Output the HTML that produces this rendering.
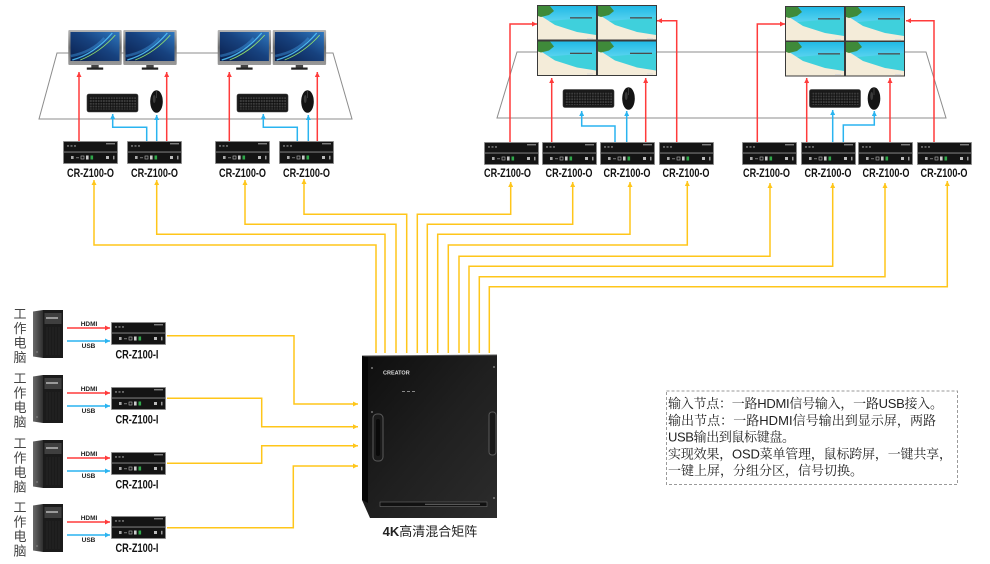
<!DOCTYPE html>
<html><head><meta charset="utf-8"><style>
html,body{margin:0;padding:0;background:#fff;width:990px;height:564px;overflow:hidden}
svg{display:block}
.lbl{font-family:"Liberation Sans","Noto Sans CJK SC",sans-serif;font-weight:bold;font-size:12px;fill:#111}
.sm{font-family:"Liberation Sans",sans-serif;font-weight:bold;font-size:6.5px;fill:#222}
.cjk{font-family:"Liberation Sans","Noto Sans CJK SC",sans-serif;font-size:13px;fill:#444}
.note{font-family:"Liberation Sans","Noto Serif CJK SC",serif;font-size:13px;fill:#222}
</style></head><body>
<svg width="990" height="564" viewBox="0 0 990 564" xmlns="http://www.w3.org/2000/svg">
<defs>
 <marker id="ay" viewBox="0 0 6 6" refX="6" refY="3" markerWidth="5" markerHeight="5" orient="auto" markerUnits="userSpaceOnUse"><path d="M0,0 L6,3 L0,6z" fill="#FFC61A"/></marker>
 <marker id="ar" viewBox="0 0 6 6" refX="6" refY="3" markerWidth="5" markerHeight="5" orient="auto" markerUnits="userSpaceOnUse"><path d="M0,0 L6,3 L0,6z" fill="#FF3B3B"/></marker>
 <marker id="ab" viewBox="0 0 6 6" refX="6" refY="3" markerWidth="5" markerHeight="5" orient="auto" markerUnits="userSpaceOnUse"><path d="M0,0 L6,3 L0,6z" fill="#2AB4F0"/></marker>
 <linearGradient id="win" x1="0" y1="1" x2="1" y2="0">
  <stop offset="0" stop-color="#0a1f4c"/><stop offset="0.55" stop-color="#17427f"/><stop offset="1" stop-color="#2f78c0"/>
 </linearGradient>
 <linearGradient id="bez" x1="0" y1="0" x2="0" y2="1">
  <stop offset="0" stop-color="#b5b5b5"/><stop offset="0.5" stop-color="#6e6e6e"/><stop offset="1" stop-color="#9a9a9a"/>
 </linearGradient>
 <linearGradient id="sky" x1="0" y1="0" x2="0" y2="1">
  <stop offset="0" stop-color="#21b9e6"/><stop offset="0.5" stop-color="#5fd6f0"/><stop offset="1" stop-color="#7ee3f2"/>
 </linearGradient>
 <linearGradient id="mtx" x1="0" y1="0" x2="1" y2="1">
  <stop offset="0" stop-color="#0e0e0e"/><stop offset="0.5" stop-color="#1f1f1f"/><stop offset="1" stop-color="#2c2c2c"/>
 </linearGradient>
 <linearGradient id="pcs" x1="0" y1="0" x2="1" y2="0">
  <stop offset="0" stop-color="#6a6a6a"/><stop offset="1" stop-color="#2e2e2e"/>
 </linearGradient>
 <pattern id="keys" width="2.6" height="2.8" patternUnits="userSpaceOnUse"><rect width="2.6" height="2.8" fill="#0c0c0c"/><rect x=".35" y=".35" width="1.9" height="2" fill="#3c3c3c"/></pattern>

 <g id="box">
  <rect x="0.5" y="0.5" width="54" height="22" fill="#141414" stroke="#8a8a8a" stroke-width="0.8"/>
  <rect x="0.9" y="10.4" width="53.2" height="1.3" fill="#6a6a6a"/>
  <rect x="4" y="4.3" width="2" height="1.3" fill="#888"/><rect x="7.5" y="4.3" width="2" height="1.3" fill="#888"/><rect x="11" y="4.3" width="2" height="1.3" fill="#888"/>
  <rect x="43" y="2.3" width="9" height="1" fill="#aaa"/>
  <rect x="8" y="15" width="2.6" height="3" fill="#aaa"/>
  <rect x="13" y="16.3" width="3" height="0.9" fill="#888"/>
  <rect x="18" y="15" width="3" height="3" fill="none" stroke="#bbb" stroke-width=".6"/>
  <rect x="23" y="14.5" width="2.6" height="4" fill="#ccc"/>
  <rect x="27.5" y="14.5" width="2.6" height="4" fill="#2fa84a"/>
  <rect x="43" y="15" width="3" height="3" fill="#bbb"/>
  <rect x="50" y="14.8" width="1.5" height="3.6" fill="#999"/>
 </g>

 <g id="mon">
  <rect x="0" y="0" width="53.4" height="35" rx="1" fill="url(#bez)"/>
  <rect x="2.2" y="2" width="49" height="29" fill="url(#win)"/>
  <path d="M4,30 Q26,24 44,3" stroke="#52c8ff" stroke-width="1.3" fill="none" opacity=".85"/>
  <path d="M12,30 Q32,22 47,5" stroke="#9ff06a" stroke-width="0.9" fill="none" opacity=".9"/>
  <path d="M2.5,26 Q24,22 36,8" stroke="#3a8fd8" stroke-width="2.5" fill="none" opacity=".5"/>
  <rect x="23" y="35" width="7.4" height="3" fill="#444"/>
  <rect x="18.5" y="37.5" width="16.4" height="2.2" fill="#222"/>
 </g>

 <g id="beach">
  <rect x="0" y="0" width="60" height="35.5" fill="#3a3a3a"/>
  <rect x="1" y="1" width="58" height="33.5" fill="url(#sky)"/>
  <polygon points="1,17 59,12 59,34.5 1,34.5" fill="#3fd0dc"/>
  <polygon points="1,9 18,20 40,27 59,30 59,34.5 1,34.5" fill="#f4ecd9"/>
  <polygon points="1,1 13,1 17,6 12,10 4,12 1,11" fill="#3f8a3a"/>
  <rect x="33" y="12.2" width="22" height="1.3" fill="#4b4b4b"/>
  <rect x="50" y="33" width="6" height="1" fill="#ddd"/>
 </g>

 <g id="kb">
  <rect x="0" y="0" width="51" height="18" rx="2" fill="#1a1a1a" stroke="#3f3f3f" stroke-width=".6"/>
  <rect x="2" y="3" width="47" height="12.5" fill="url(#keys)"/>
 </g>

 <g id="mouse">
  <ellipse cx="6.5" cy="11.5" rx="6.3" ry="11.3" fill="#141414"/>
  <path d="M6.5,1 V8" stroke="#555" stroke-width=".6"/>
  <ellipse cx="4.2" cy="9" rx="1.4" ry="4" fill="#3a3a3a"/>
 </g>

 <g id="pc">
  <polygon points="0,1.5 10,0 10,48 0,46.5" fill="url(#pcs)"/>
  <rect x="10" y="0" width="20" height="48" fill="#1b1b1b"/>
  <rect x="11.5" y="3" width="17" height="11" fill="#3f3f3f"/>
  <rect x="13" y="7" width="12" height="2" fill="#9a9a9a"/>
  <path d="M14,17 V45 M17,17 V45 M20,17 V45 M23,17 V45 M26,17 V45" stroke="#2a2a2a" stroke-width=".8"/>
  <circle cx="4" cy="42" r="1" fill="#777"/>
 </g>
</defs>

<!-- trapezoids -->
<polygon points="57,53 333,53 352,119 39,119" fill="none" stroke="#8c8c8c" stroke-width="1"/>
<polygon points="517,52 926,52 946,118 497,118" fill="none" stroke="#8c8c8c" stroke-width="1"/>

<!-- top-left monitors -->
<use href="#mon" x="68.3" y="30"/>
<use href="#mon" x="123.3" y="30"/>
<use href="#mon" x="217.7" y="30"/>
<use href="#mon" x="272.7" y="30"/>

<!-- video walls -->
<use href="#beach" x="537" y="5"/><use href="#beach" x="597" y="5"/>
<use href="#beach" x="537" y="40.5"/><use href="#beach" x="597" y="40.5"/>
<use href="#beach" x="785" y="6"/><use href="#beach" x="845" y="6"/>
<use href="#beach" x="785" y="41"/><use href="#beach" x="845" y="41"/>

<!-- keyboards & mice -->
<use href="#kb" x="87" y="94"/><use href="#mouse" x="150" y="90"/>
<use href="#kb" x="237" y="94"/><use href="#mouse" x="301" y="90"/>
<use href="#kb" x="563" y="89.5"/><use href="#mouse" x="622" y="87"/>
<use href="#kb" x="809.5" y="89.5"/><use href="#mouse" x="867.5" y="87"/>

<!-- red lines -->
<g stroke="#FF3B3B" stroke-width="1.5" fill="none" marker-end="url(#ar)">
 <polyline points="79,141 79,72"/>
 <polyline points="166.7,141 166.7,72"/>
 <polyline points="229.3,141 229.3,72"/>
 <polyline points="317.3,141 317.3,72"/>
 <polyline points="510,142 510,24 537,24"/>
 <polyline points="551.7,142 551.7,78"/>
 <polyline points="645.7,142 645.7,78"/>
 <polyline points="676.7,142 676.7,20.7 657,20.7"/>
 <polyline points="757.3,142 757.3,24 785,24"/>
 <polyline points="806.7,142 806.7,78"/>
 <polyline points="890,142 890,78"/>
 <polyline points="934,142 934,20.7 906,20.7"/>
</g>
<!-- blue lines -->
<g stroke="#2AB4F0" stroke-width="1.5" fill="none" marker-end="url(#ab)">
 <polyline points="146.7,141 146.7,127.3 112.7,127.3 112.7,114"/>
 <polyline points="156.7,141 156.7,115"/>
 <polyline points="297.3,141 297.3,127.3 263.3,127.3 263.3,114"/>
 <polyline points="308.3,141 308.3,115"/>
 <polyline points="615,142 615,126 581.7,126 581.7,111"/>
 <polyline points="626.7,142 626.7,111"/>
 <polyline points="832.7,142 832.7,110"/>
 <polyline points="843.3,142 843.3,125 874.3,125 874.3,111"/>
</g>

<!-- output boxes -->
<use href="#box" x="63" y="141"/><use href="#box" x="127" y="141"/>
<use href="#box" x="215" y="141"/><use href="#box" x="279" y="141"/>
<use href="#box" x="484" y="142"/><use href="#box" x="542" y="142"/>
<use href="#box" x="600" y="142"/><use href="#box" x="659" y="142"/>
<use href="#box" x="742" y="142"/><use href="#box" x="801" y="142"/>
<use href="#box" x="858" y="142"/><use href="#box" x="917" y="142"/>

<!-- output labels -->
<g class="lbl" text-anchor="middle">
 <text x="90.5" y="177" textLength="47" lengthAdjust="spacingAndGlyphs">CR-Z100-O</text>
 <text x="154.5" y="177" textLength="47" lengthAdjust="spacingAndGlyphs">CR-Z100-O</text>
 <text x="242.5" y="177" textLength="47" lengthAdjust="spacingAndGlyphs">CR-Z100-O</text>
 <text x="306.5" y="177" textLength="47" lengthAdjust="spacingAndGlyphs">CR-Z100-O</text>
 <text x="507.5" y="177" textLength="47" lengthAdjust="spacingAndGlyphs">CR-Z100-O</text>
 <text x="569" y="177" textLength="47" lengthAdjust="spacingAndGlyphs">CR-Z100-O</text>
 <text x="627" y="177" textLength="47" lengthAdjust="spacingAndGlyphs">CR-Z100-O</text>
 <text x="686" y="177" textLength="47" lengthAdjust="spacingAndGlyphs">CR-Z100-O</text>
 <text x="766.5" y="177" textLength="47" lengthAdjust="spacingAndGlyphs">CR-Z100-O</text>
 <text x="828" y="177" textLength="47" lengthAdjust="spacingAndGlyphs">CR-Z100-O</text>
 <text x="886" y="177" textLength="47" lengthAdjust="spacingAndGlyphs">CR-Z100-O</text>
 <text x="944" y="177" textLength="47" lengthAdjust="spacingAndGlyphs">CR-Z100-O</text>
</g>

<!-- yellow lines -->
<g stroke="#FFC61A" stroke-width="1.5" fill="none" marker-end="url(#ay)">
 <polyline points="376,353 376,245 94,245 94,180"/>
 <polyline points="385,353 385,234.3 156.7,234.3 156.7,180"/>
 <polyline points="396,353 396,224.3 245,224.3 245,180"/>
 <polyline points="406.7,353 406.7,214.3 304,214.3 304,179"/>
 <polyline points="417.3,353 417.3,214.3 510.7,214.3 510.7,182"/>
 <polyline points="427.3,353 427.3,224.3 572.7,224.3 572.7,182"/>
 <polyline points="437.7,353 437.7,234.3 630,234.3 630,182"/>
 <polyline points="448.3,353 448.3,245 687.3,245 687.3,181"/>
 <polyline points="459,353 459,256.3 770,256.3 770,183"/>
 <polyline points="469,353 469,266.3 832.7,266.3 832.7,183"/>
 <polyline points="479.3,353 479.3,276.7 885,276.7 885,183"/>
 <polyline points="489.3,353 489.3,286.7 947.3,286.7 947.3,181"/>
 <polyline points="167,335.7 294,335.7 294,404 358,404"/>
 <polyline points="167,398.3 261.7,398.3 261.7,426.7 358,426.7"/>
 <polyline points="167,463.3 261.7,463.3 261.7,445.7 358,445.7"/>
 <polyline points="167,527.7 293.3,527.7 293.3,466 358,466"/>
</g>

<!-- input rows -->
<g>
 <use href="#pc" x="33" y="310"/>
 <use href="#pc" x="33" y="375"/>
 <use href="#pc" x="33" y="440"/>
 <use href="#pc" x="33" y="504"/>
</g>
<g class="cjk" text-anchor="middle">
 <text x="20" y="318.5">工</text><text x="20" y="333">作</text><text x="20" y="347.5">电</text><text x="20" y="362">脑</text>
 <text x="20" y="383">工</text><text x="20" y="397.5">作</text><text x="20" y="412">电</text><text x="20" y="426.5">脑</text>
 <text x="20" y="448">工</text><text x="20" y="462.5">作</text><text x="20" y="477">电</text><text x="20" y="491.5">脑</text>
 <text x="20" y="512">工</text><text x="20" y="526.5">作</text><text x="20" y="541">电</text><text x="20" y="555.5">脑</text>
</g>
<g stroke="#FF3B3B" stroke-width="1.5" fill="none" marker-end="url(#ar)">
 <line x1="67" y1="328" x2="110" y2="328"/>
 <line x1="67" y1="393" x2="110" y2="393"/>
 <line x1="67" y1="458" x2="110" y2="458"/>
 <line x1="67" y1="522" x2="110" y2="522"/>
</g>
<g stroke="#2AB4F0" stroke-width="1.5" fill="none" marker-end="url(#ab)">
 <line x1="67" y1="341" x2="110" y2="341"/>
 <line x1="67" y1="406" x2="110" y2="406"/>
 <line x1="67" y1="471" x2="110" y2="471"/>
 <line x1="67" y1="535" x2="110" y2="535"/>
</g>
<g class="sm" text-anchor="middle">
 <text x="89" y="326">HDMI</text><text x="88.5" y="348">USB</text>
 <text x="89" y="391">HDMI</text><text x="88.5" y="413">USB</text>
 <text x="89" y="456">HDMI</text><text x="88.5" y="478">USB</text>
 <text x="89" y="520">HDMI</text><text x="88.5" y="542">USB</text>
</g>
<use href="#box" x="111" y="322"/>
<use href="#box" x="111" y="387"/>
<use href="#box" x="111" y="452"/>
<use href="#box" x="111" y="516"/>
<g class="lbl" text-anchor="middle">
 <text x="137" y="358.5" textLength="43" lengthAdjust="spacingAndGlyphs">CR-Z100-I</text>
 <text x="137" y="423.5" textLength="43" lengthAdjust="spacingAndGlyphs">CR-Z100-I</text>
 <text x="137" y="488.5" textLength="43" lengthAdjust="spacingAndGlyphs">CR-Z100-I</text>
 <text x="137" y="552" textLength="43" lengthAdjust="spacingAndGlyphs">CR-Z100-I</text>
</g>

<!-- matrix -->
<polygon points="362,356 497,355 497,518 370,518 362,500" fill="url(#mtx)"/>
<line x1="362" y1="356" x2="497" y2="355" stroke="#555" stroke-width="1"/>
<polygon points="362,356 368,357 368,503 362,500" fill="#060606"/>
<rect x="373" y="414" width="10" height="47" rx="4" fill="#1a1a1a" stroke="#5a5a5a" stroke-width="1"/>
<rect x="376" y="419" width="4" height="37" rx="2" fill="#0a0a0a"/>
<rect x="489" y="412" width="7" height="43" rx="3" fill="#1a1a1a" stroke="#5a5a5a" stroke-width="1"/>
<circle cx="372" cy="368" r="0.9" fill="#999"/><circle cx="494" cy="367" r="0.9" fill="#999"/>
<circle cx="372" cy="412" r="0.9" fill="#888"/><circle cx="494" cy="498" r="0.9" fill="#999"/>
<text x="383" y="374.5" style="font-family:'Liberation Sans',sans-serif;font-size:5.5px;font-weight:bold;fill:#ddd">CREATOR</text>
<rect x="402" y="391" width="3" height="1" fill="#888"/><rect x="407" y="391" width="3" height="1" fill="#888"/><rect x="412" y="391" width="3" height="1" fill="#888"/>
<rect x="380" y="502" width="107" height="4.5" fill="#111" stroke="#6a6a6a" stroke-width="0.6"/>
<rect x="425" y="503.8" width="55" height="0.9" fill="#777"/>
<text x="430" y="536" text-anchor="middle" style="font-family:'Liberation Sans','Noto Sans CJK SC',sans-serif;font-size:13px;fill:#222"><tspan font-weight="bold">4K</tspan>高清混合矩阵</text>

<!-- note box -->
<rect x="666.5" y="391" width="291" height="93.5" fill="none" stroke="#9a9a9a" stroke-width="1" stroke-dasharray="3,2"/>
<g class="note">
 <text x="668" y="408" textLength="275" lengthAdjust="spacing">输入节点：一路HDMI信号输入，一路USB接入。</text>
 <text x="668" y="425" textLength="268" lengthAdjust="spacing">输出节点：一路HDMI信号输出到显示屏，两路</text>
 <text x="668" y="441.5" textLength="127" lengthAdjust="spacing">USB输出到鼠标键盘。</text>
 <text x="668" y="458.5" textLength="284" lengthAdjust="spacing">实现效果，OSD菜单管理，鼠标跨屏，一键共享，</text>
 <text x="668" y="475" textLength="195" lengthAdjust="spacing">一键上屏，分组分区，信号切换。</text>
</g>
</svg>
</body></html>
